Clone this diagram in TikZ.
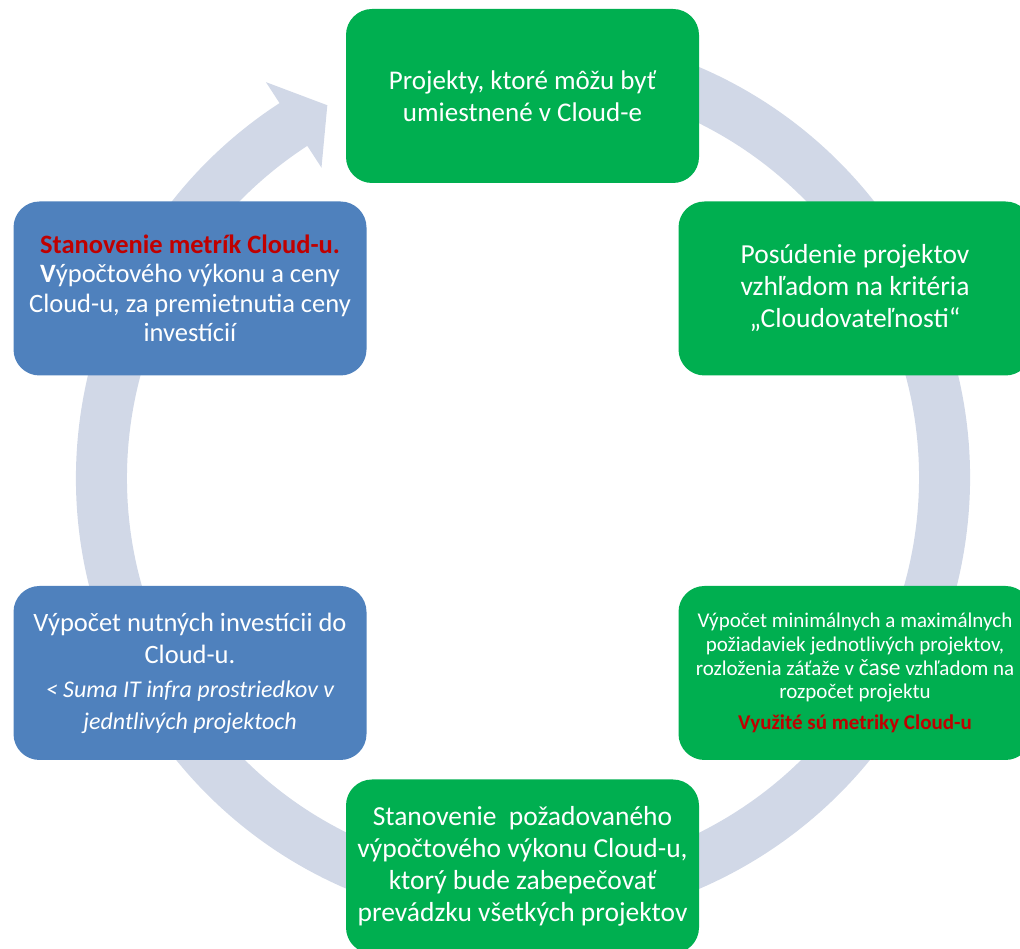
\documentclass[tikz,border=0pt]{standalone}
\usepackage{fontspec}
\setmainfont{Carlito}
\usetikzlibrary{calc}
\definecolor{boxgreen}{HTML}{00AF50}
\definecolor{boxblue}{HTML}{4F81BD}
\definecolor{ringc}{HTML}{D1D8E7}
\definecolor{redtxt}{HTML}{C00000}
\tikzset{
  stagebox/.style={rectangle, rounded corners=26pt, draw=none, text=white, align=center,
    minimum width=353pt, minimum height=174pt, inner sep=2pt},
  greenbox/.style={stagebox, fill=boxgreen},
  bluebox/.style={stagebox, fill=boxblue},
}
\begin{document}
\begin{tikzpicture}[x=1pt,y=1pt]
\useasboundingbox (0,0) rectangle (1020,949);
\clip (0,0) rectangle (1020,949);
% ring arrow
\fill[ringc] ([shift={(523,471)}]80:447) arc[start angle=80, end angle=-237, radius=447]
  -- ([shift={(523,471)}]123:472)
  -- ([shift={(523,471)}]117.7:421)
  -- ([shift={(523,471)}]123:370)
  -- ([shift={(523,471)}]-237:396) arc[start angle=-237, end angle=80, radius=396]
  -- cycle;
% boxes
\node[greenbox, font=\fontsize{27}{32.5}\selectfont] (top) at (522.5,853) {Projekty, ktoré môžu byť\\umiestnené v Cloud-e};
\node[greenbox, font=\fontsize{27.5}{32}\selectfont] (ru) at (855,660.5) {Posúdenie projektov\\vzhľadom na kritéria\\„Cloudovateľnosti“};
\node[greenbox, font=\fontsize{21}{23.8}\selectfont] (rl) at (855,276) {Výpočet minimálnych a maximálnych\\požiadaviek jednotlivých projektov,\\rozloženia záťaže v {\fontsize{23.5}{23.8}\selectfont čase} vzhľadom na\\rozpočet projektu\\[7pt]\textcolor{redtxt}{\bfseries Využité sú metriky Cloud-u}};
\node[greenbox, font=\fontsize{27.5}{31.8}\selectfont] (bot) at (522.5,82.5) {Stanovenie\ \ požadovaného\\výpočtového výkonu Cloud-u,\\ktorý bude zabepečovať\\prevádzku všetkých projektov};
\node[bluebox, font=\fontsize{26.5}{32}\selectfont] (ll) at (190,276) {Výpočet nutných investícii do\\Cloud-u.\\[2pt]\fontsize{24}{27}\selectfont\itshape < Suma IT infra prostriedkov v\\\fontsize{24}{27}\selectfont\itshape jedntlivých projektoch};
\node[bluebox, font=\fontsize{26.5}{29.5}\selectfont] (lu) at (190,660.5) {\textcolor{redtxt}{\bfseries Stanovenie metrík Cloud-u.}\\\textbf{V}ýpočtového výkonu a ceny\\Cloud-u, za premietnutia ceny\\investícií};
\end{tikzpicture}
\end{document}
